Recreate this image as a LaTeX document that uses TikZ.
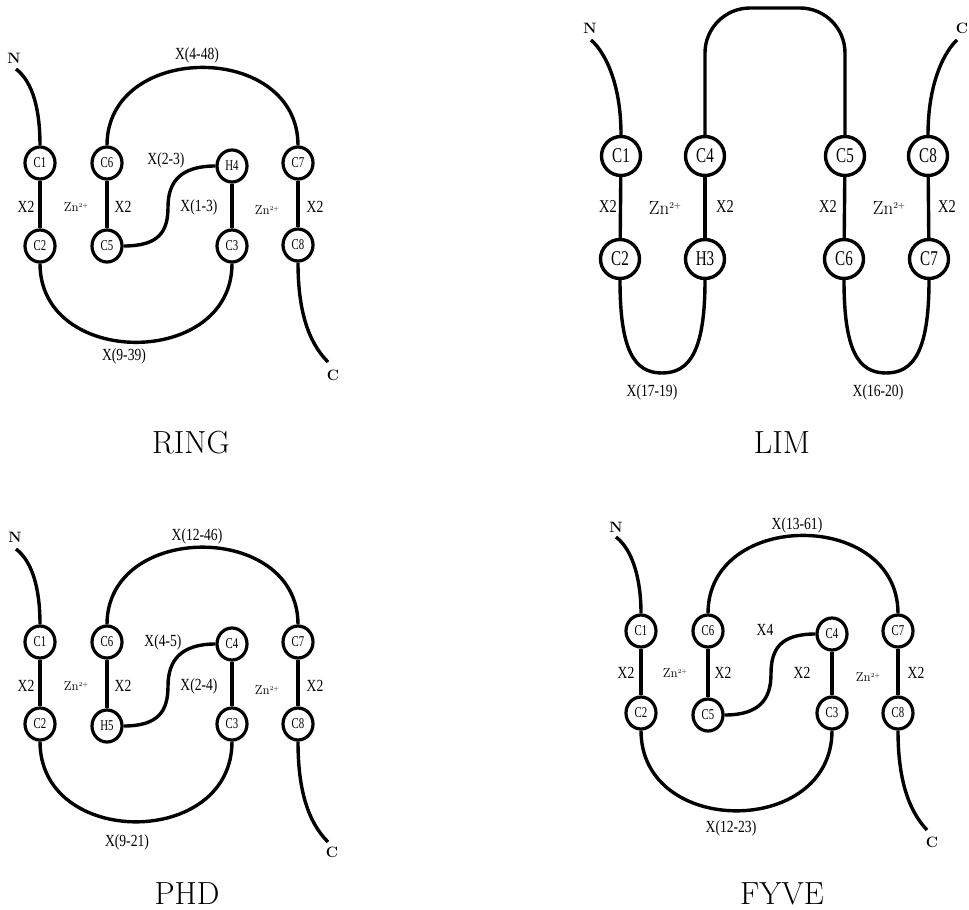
\documentclass[tikz,border=0pt]{standalone}
\usepackage{fontspec}
\newfontfamily\condf[FakeStretch=0.8]{Liberation Serif}
\newfontfamily\condg[FakeStretch=0.72]{Liberation Serif}
\usetikzlibrary{shapes.geometric}
\newcommand\myzn[2]{Zn\raisebox{#2}{\fontsize{#1}{#1}\selectfont 2+}}
\tikzset{
 res/.style={ellipse,draw,line width=3.2pt,minimum width=30pt,minimum height=32pt,inner sep=0pt,font=\condg\fontsize{15}{15}\selectfont},
 lres/.style={circle,draw,line width=3.4pt,minimum size=39pt,inner sep=0pt,font=\condg\fontsize{21}{21}\selectfont},
 chain/.style={line width=3.4pt},
 xl/.style={font=\condf\fontsize{17}{17}\selectfont,inner sep=0pt},
 lxl/.style={font=\condf\fontsize{18}{18}\selectfont,inner sep=0pt},
 zn/.style={font=\fontsize{13}{13}\selectfont,inner sep=0pt},
 lzn/.style={font=\fontsize{19}{19}\selectfont,inner sep=0pt},
 term/.style={font=\bfseries\fontsize{15}{15}\selectfont,inner sep=0pt},
 ttl/.style={font=\fontsize{32}{32}\selectfont,inner sep=0pt},
}
\begin{document}
\begin{tikzpicture}[x=1pt,y=-1pt]
\path[use as bounding box,fill=white] (0,0) rectangle (969,910);

% ===================== RING =====================
\node[res] (r1) at (40,163) {C1};
\node[res] (r2) at (40,246) {C2};
\node[res] (r6) at (107,163) {C6};
\node[res] (r5) at (107,246) {C5};
\node[res] (r4) at (232,166) {H4};
\node[res] (r3) at (232,246) {C3};
\node[res] (r7) at (298,163) {C7};
\node[res] (r8) at (298,245) {C8};
\draw[chain] (r1) -- (r2);
\draw[chain] (r6) -- (r5);
\draw[chain] (r4) -- (r3);
\draw[chain] (r7) -- (r8);
\coordinate (rN0) at (16,69);
\coordinate (rC0) at (328,362);
\coordinate (rS) at (168,207);
\draw[chain] (rN0) .. controls (33,82) and (40,110) .. (r1.north);
\draw[chain] (r6.north) .. controls +(0,-104) and +(0,-104) .. (r7.north);
\draw[chain] (r2.south) .. controls +(0,105) and +(0,105) .. (r3.south);
\draw[chain] (r5.east) .. controls +(35,0) and +(0,25) .. (rS) .. controls +(0,-25) and +(-35,0) .. (r4.west);
\draw[chain] (r8.south) .. controls (298,310) and (308,342) .. (rC0);
\node[xl] (rx1) at (197,55) {X(4-48)};
\node[xl] (rx2) at (166,160) {X(2-3)};
\node[xl] (rx3) at (199,207) {X(1-3)};
\node[xl] (rx4) at (124,356) {X(9-39)};
\node[xl] (rx5) at (26,207) {X2};
\node[xl] (rx6) at (123,207) {X2};
\node[xl] (rx7) at (315,207) {X2};
\node[zn] (rz1) at (76,207) {\myzn{6}{4pt}};
\node[zn] (rz2) at (267,210) {\myzn{6}{4pt}};
\node[term] (rN) at (14,58) {N};
\node[term] (rC) at (333,375) {C};
\node[ttl] (rT) at (191,443) {RING};

% ===================== PHD =====================
\node[res] (p1) at (40,642) {C1};
\node[res] (p2) at (40,724) {C2};
\node[res] (p6) at (107,642) {C6};
\node[res] (p5) at (107,726) {H5};
\node[res] (p4) at (232,644) {C4};
\node[res] (p3) at (232,724) {C3};
\node[res] (p7) at (298,642) {C7};
\node[res] (p8) at (298,724) {C8};
\draw[chain] (p1) -- (p2);
\draw[chain] (p6) -- (p5);
\draw[chain] (p4) -- (p3);
\draw[chain] (p7) -- (p8);
\coordinate (pN0) at (16,549);
\coordinate (pC0) at (328,842);
\coordinate (pS) at (168,686);
\draw[chain] (pN0) .. controls (33,562) and (40,590) .. (p1.north);
\draw[chain] (p6.north) .. controls +(0,-103) and +(0,-103) .. (p7.north);
\draw[chain] (p2.south) .. controls +(0,107) and +(0,107) .. (p3.south);
\draw[chain] (p5.east) .. controls +(35,0) and +(0,25) .. (pS) .. controls +(0,-25) and +(-35,0) .. (p4.west);
\draw[chain] (p8.south) .. controls (298,790) and (308,822) .. (pC0);
\node[xl] (px1) at (197,536) {X(12-46)};
\node[xl] (px2) at (163,642) {X(4-5)};
\node[xl] (px3) at (199,686) {X(2-4)};
\node[xl] (px4) at (127,842) {X(9-21)};
\node[xl] (px5) at (26,686) {X2};
\node[xl] (px6) at (123,686) {X2};
\node[xl] (px7) at (315,686) {X2};
\node[zn] (pz1) at (76,686) {\myzn{6}{4pt}};
\node[zn] (pz2) at (267,690) {\myzn{6}{4pt}};
\node[term] (pN) at (15,537) {N};
\node[term] (pC) at (332,852) {C};
\node[ttl] (pT) at (187,894) {PHD};

% ===================== FYVE =====================
\node[res] (f1) at (641,631) {C1};
\node[res] (f2) at (641,713) {C2};
\node[res] (f6) at (708,631) {C6};
\node[res] (f5) at (708,715) {C5};
\node[res] (f4) at (832,634) {C4};
\node[res] (f3) at (832,713) {C3};
\node[res] (f7) at (898,631) {C7};
\node[res] (f8) at (898,713) {C8};
\draw[chain] (f1) -- (f2);
\draw[chain] (f6) -- (f5);
\draw[chain] (f4) -- (f3);
\draw[chain] (f7) -- (f8);
\coordinate (fN0) at (616,537);
\coordinate (fC0) at (927,830);
\coordinate (fS) at (771,674);
\draw[chain] (fN0) .. controls (633,550) and (641,580) .. (f1.north);
\draw[chain] (f6.north) .. controls +(0,-104) and +(0,-104) .. (f7.north);
\draw[chain] (f2.south) .. controls +(0,107) and +(0,107) .. (f3.south);
\draw[chain] (f5.east) .. controls +(35,0) and +(0,25) .. (fS) .. controls +(0,-25) and +(-35,0) .. (f4.west);
\draw[chain] (f8.south) .. controls (898,778) and (908,810) .. (fC0);
\node[xl] (fx1) at (797,525) {X(13-61)};
\node[xl] (fx2) at (765,630) {X4};
\node[xl] (fx3) at (802,673) {X2};
\node[xl] (fx4) at (731,828) {X(12-23)};
\node[xl] (fx5) at (626,673) {X2};
\node[xl] (fx6) at (723,673) {X2};
\node[xl] (fx7) at (916,673) {X2};
\node[zn] (fz1) at (675,673) {\myzn{6}{4pt}};
\node[zn] (fz2) at (868,677) {\myzn{6}{4pt}};
\node[term] (fN) at (616,527) {N};
\node[term] (fC) at (932,842) {C};
\node[ttl] (fT) at (782,894) {FYVE};

% ===================== LIM =====================
\node[lres] (l1) at (621,156) {C1};
\node[lres] (l2) at (620,259) {C2};
\node[lres] (l4) at (705,156) {C4};
\node[lres] (l3) at (705,259) {H3};
\node[lres] (l5) at (845,156) {C5};
\node[lres] (l6) at (844,259) {C6};
\node[lres] (l8) at (928,156) {C8};
\node[lres] (l7) at (929,259) {C7};
\draw[chain] (l1) -- (l2);
\draw[chain] (l4) -- (l3);
\draw[chain] (l5) -- (l6);
\draw[chain] (l8) -- (l7);
\coordinate (lN0) at (591,40);
\coordinate (lC0) at (957,40);
\coordinate (lTL) at (705,8);
\coordinate (lTR) at (845,8);
\coordinate (lB1) at (662,373);
\coordinate (lB2) at (886,373);
\draw[chain] (lN0) .. controls (603,50) and (621,80) .. (l1.north);
\draw[chain] (l8.north) .. controls (928,80) and (946,50) .. (lC0);
\draw[chain,rounded corners=45pt] (l4.north) -- (lTL) -- (lTR) -- (l5.north);
\draw[chain] (l2.south) .. controls +(0,70) and +(-28,0) .. (lB1) .. controls +(28,0) and +(0,70) .. (l3.south);
\draw[chain] (l6.south) .. controls +(0,70) and +(-28,0) .. (lB2) .. controls +(28,0) and +(0,70) .. (l7.south);
\node[lxl] (lx1) at (608,207) {X2};
\node[lxl] (lx2) at (725,207) {X2};
\node[lxl] (lx3) at (828,207) {X2};
\node[lxl] (lx4) at (947,207) {X2};
\node[xl] (lx5) at (652,392) {X(17-19)};
\node[xl] (lx6) at (878,392) {X(16-20)};
\node[lzn] (lz1) at (665,208) {\myzn{9}{6pt}};
\node[lzn] (lz2) at (889,208) {\myzn{9}{6pt}};
\node[term] (lN) at (590,28) {N};
\node[term] (lC) at (962,28) {C};
\node[ttl] (lT) at (782,443) {LIM};
\end{tikzpicture}
\end{document}
